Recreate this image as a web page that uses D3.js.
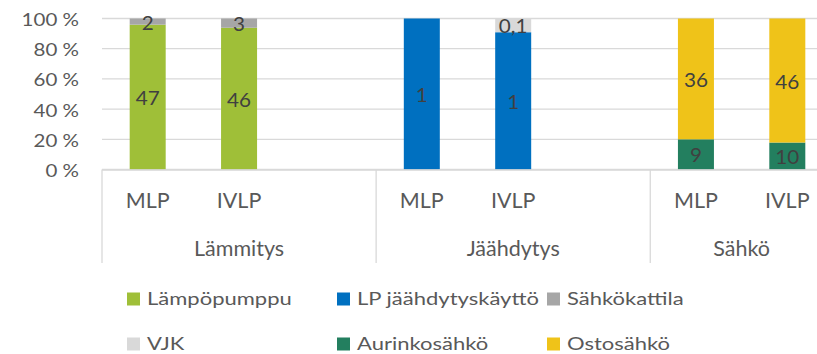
<!DOCTYPE html>
<html>
<head>
<meta charset="utf-8">
<script src="https://cdn.jsdelivr.net/npm/d3@7"></script>
<style>
  html, body { margin: 0; padding: 0; background: #fff; }
  svg { display: block; font-family: Lato, "Open Sans", sans-serif; }
</style>
</head>
<body>
<svg id="chart" width="817" height="354"></svg>
<script>
// Category structure: three groups, each with the same two sub-categories
const groups = ["Lämmitys", "Jäähdytys", "Sähkö"];
const subCategories = ["MLP", "IVLP"];
// Each group reserves a trailing empty slot except the last one
const slotKeys = [
  "Lämmitys|MLP", "Lämmitys|IVLP", "Lämmitys|",
  "Jäähdytys|MLP", "Jäähdytys|IVLP", "Jäähdytys|",
  "Sähkö|MLP", "Sähkö|IVLP"
];
const barKeys = [
  "Lämmitys|MLP", "Lämmitys|IVLP",
  "Jäähdytys|MLP", "Jäähdytys|IVLP",
  "Sähkö|MLP", "Sähkö|IVLP"
];

// Series values, one per bar in barKeys order
const seriesNames = ["Lämpöpumppu", "LP jäähdytyskäyttö", "Sähkökattila", "VJK", "Aurinkosähkö", "Ostosähkö"];
const lampopumppu   = [47, 46, 0, 0, 0, 0];
const lpJaahdytys   = [0, 0, 1, 1, 0, 0];
const sahkokattila  = [2, 3, 0, 0, 0, 0];
const vjk           = [0, 0, 0, 0.1, 0, 0];
const aurinkosahko  = [0, 0, 0, 0, 9, 10];
const ostosahko     = [0, 0, 0, 0, 36, 46];
const seriesColors  = ["#9fbf38", "#0070c0", "#a6a6a6", "#d9d9d9", "#237f5f", "#efc319"];

const yTicks = [0, 0.2, 0.4, 0.6, 0.8, 1.0];

const seriesValues = [lampopumppu, lpJaahdytys, sahkokattila, vjk, aurinkosahko, ostosahko];
const rows = barKeys.map((k, i) => {
  const r = { key: k };
  seriesNames.forEach((s, j) => { r[s] = seriesValues[j][i]; });
  return r;
});

const svg = d3.select("#chart");
const plot = { left: 102, right: 833, top: 18.5, bottom: 169.5 };

const x = d3.scaleBand().domain(slotKeys).range([plot.left, plot.right])
  .paddingInner(0.606).paddingOuter(0.303);
const y = d3.scaleLinear().domain([0, 1]).range([plot.bottom, plot.top]);
const color = d3.scaleOrdinal().domain(seriesNames).range(seriesColors);

// Place a text at (px, py) on its baseline, widened horizontally by sx
function placeText(sel, px, py, sx) {
  return sel.attr("x", 0).attr("y", 0)
    .attr("transform", (d, i) => `translate(${px(d, i)},${py(d, i)}) scale(${sx},1)`);
}

// Gridlines
svg.append("g").selectAll("line").data(yTicks).join("line")
  .attr("x1", plot.left).attr("x2", plot.right)
  .attr("y1", d => y(d)).attr("y2", d => y(d))
  .attr("stroke", "#d9d9d9").attr("stroke-width", 1.3);

// Y axis labels
const fmtPct = d => Math.round(d * 100) + " %";
placeText(svg.append("g").selectAll("text").data(yTicks).join("text"),
    () => 79, d => y(d) + 7.5, 1.16)
  .attr("text-anchor", "end").attr("fill", "#595959")
  .attr("font-size", 17.7).text(fmtPct);

// Stacked 100% bars
const stack = d3.stack().keys(seriesNames).offset(d3.stackOffsetExpand);
const stacked = stack(rows);

const layers = svg.append("g").selectAll("g").data(stacked).join("g")
  .attr("fill", d => color(d.key));
layers.selectAll("rect").data(d => d)
  .join("rect")
  .attr("x", p => x(p.data.key))
  .attr("width", x.bandwidth())
  .attr("y", p => y(p[1]))
  .attr("height", p => y(p[0]) - y(p[1]));

// Value labels in the middle of each segment
const fmtFi = v => String(v).replace(".", ",");
const labelData = stacked.flatMap(layer => layer
  .filter(p => p.data[layer.key] > 0)
  .map(p => ({ key: p.data.key, mid: (p[0] + p[1]) / 2, value: p.data[layer.key] })));
placeText(svg.append("g").selectAll("text").data(labelData).join("text"),
    d => x(d.key) + x.bandwidth() / 2, d => y(d.mid) + 8, 1.06)
  .attr("text-anchor", "middle").attr("fill", "#404040")
  .attr("font-size", 19.5).text(d => fmtFi(d.value));

// Category axis: baseline, group separators, labels
svg.append("line")
  .attr("x1", plot.left).attr("x2", plot.right)
  .attr("y1", plot.bottom + 0.5).attr("y2", plot.bottom + 0.5)
  .attr("stroke", "#d9d9d9").attr("stroke-width", 1.3);

const groupBounds = groups.map(g => {
  const ks = slotKeys.filter(k => k.startsWith(g + "|"));
  const first = x(ks[0]) - x.step() * x.paddingInner() / 2;
  const last = x(ks[ks.length - 1]) + x.bandwidth() + x.step() * x.paddingInner() / 2;
  return { g, x0: first, x1: last };
});
svg.append("g").selectAll("line").data(groupBounds.map(b => b.x0).concat([groupBounds[groupBounds.length - 1].x1]))
  .join("line")
  .attr("x1", d => d).attr("x2", d => d)
  .attr("y1", plot.bottom).attr("y2", 263)
  .attr("stroke", "#d9d9d9").attr("stroke-width", 1.3);

svg.append("g").selectAll("text").data(barKeys).join("text")
  .attr("x", k => x(k) + x.bandwidth() / 2).attr("y", 208)
  .attr("text-anchor", "middle").attr("fill", "#595959")
  .attr("font-size", 21.5).text(k => k.split("|")[1]);

svg.append("g").selectAll("text").data(groupBounds).join("text")
  .attr("x", b => (b.x0 + b.x1) / 2).attr("y", 255.5)
  .attr("text-anchor", "middle").attr("fill", "#595959")
  .attr("font-size", 21.5).text(b => b.g);

// Legend: two rows of three entries
const legendCols = [127, 337, 547];
const legendRows = [299, 344];
const legend = svg.append("g").selectAll("g").data(seriesNames).join("g")
  .attr("transform", (d, i) => `translate(${legendCols[i % 3]},${legendRows[Math.floor(i / 3)]})`);
legend.append("rect").attr("x", 0).attr("y", -6.5).attr("width", 13).attr("height", 13)
  .attr("fill", d => color(d));
legend.append("text").attr("x", 0).attr("y", 0)
  .attr("transform", "translate(20,6.2) scale(1.28,1)")
  .attr("fill", "#595959").attr("font-size", 17.2).text(d => d);
</script>
</body>
</html>
